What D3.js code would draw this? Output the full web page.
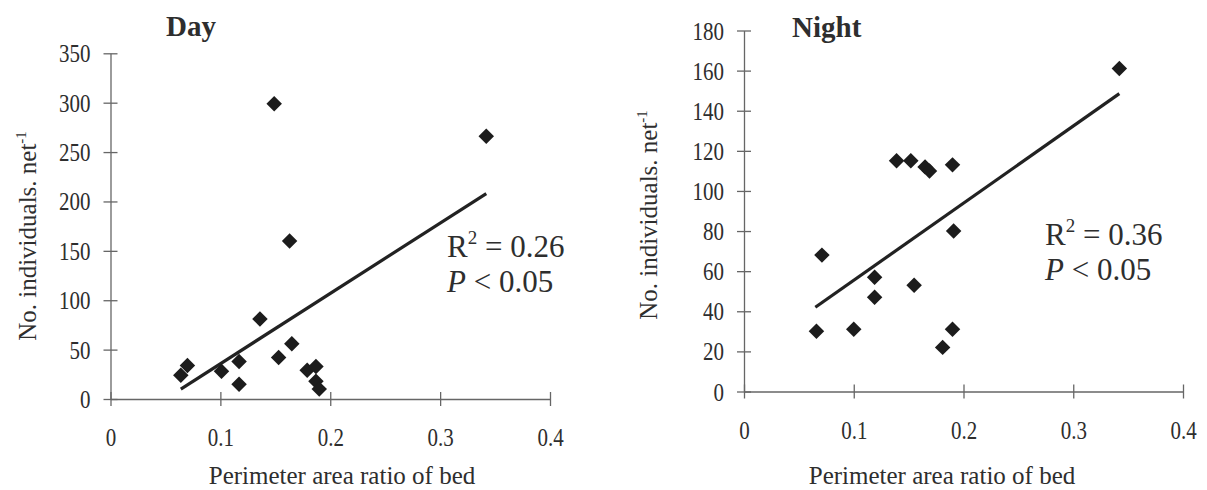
<!DOCTYPE html>
<html>
<head>
<meta charset="utf-8">
<script src="https://cdn.jsdelivr.net/npm/d3@7"></script>
<style>
    body { margin: 0; background: #fff; }
    svg { display: block; }
    svg text { font-family: "Liberation Serif", "Times New Roman", serif; }
</style>
</head>
<body>
<svg id="chart" width="1207" height="490"></svg>
<script>
// Day panel data
const dayX = [0.064, 0.070, 0.101, 0.117, 0.117, 0.136, 0.149, 0.153, 0.163, 0.165, 0.179, 0.187, 0.187, 0.190, 0.342];
const dayY = [24, 34, 28, 38, 15, 81, 299, 42, 160, 56, 29, 33, 18, 10, 266];
const dayTrendX = [0.064, 0.342];
const dayTrendY = [10, 208];

// Night panel data
const nightX = [0.066, 0.071, 0.100, 0.119, 0.119, 0.139, 0.152, 0.155, 0.165, 0.169, 0.181, 0.190, 0.190, 0.191, 0.342];
const nightY = [30, 68, 31, 57, 47, 115, 115, 53, 112, 110, 22, 113, 31, 80, 161];
const nightTrendX = [0.065, 0.342];
const nightTrendY = [42, 148.5];

// Axis ticks
const xTicks = [0, 0.1, 0.2, 0.3, 0.4];
const dayYTicks = [0, 50, 100, 150, 200, 250, 300, 350];
const nightYTicks = [0, 20, 40, 60, 80, 100, 120, 140, 160, 180];

const textColor = "#2e2e2e";
const axisColor = "#666";
const serif = "'Liberation Serif', 'Times New Roman', serif";

function renderScatter(svg, opt) {
    const x = d3.scaleLinear().domain([0, 0.4]).range(opt.xRange);
    const y = d3.scaleLinear().domain(opt.yDomain).range(opt.yRange);

    const g = svg.append("g");

    // Y axis with ticks crossing the line
    const yAxis = g.append("g")
        .attr("transform", `translate(${opt.xRange[0]},0)`)
        .call(d3.axisLeft(y).tickValues(opt.yTicks).tickSizeOuter(0).tickFormat(d3.format("d")));

    // X axis
    const xAxis = g.append("g")
        .attr("transform", `translate(0,${opt.yRange[0]})`)
        .call(d3.axisBottom(x).tickValues(xTicks).tickSizeOuter(0)
            .tickFormat(d => d === 0 ? "0" : d3.format(".1f")(d)));

    [yAxis, xAxis].forEach(ax => {
        ax.attr("font-family", serif).attr("font-size", 25);
        ax.select(".domain").attr("stroke", axisColor).attr("stroke-width", 1.3);
        ax.selectAll(".tick line").attr("stroke", axisColor).attr("stroke-width", 1.3);
        ax.selectAll(".tick text").attr("fill", textColor);
    });

    yAxis.selectAll(".tick line").attr("x1", -7).attr("x2", 7);
    yAxis.selectAll(".tick text")
        .attr("x", 0).attr("dy", "0.34em")
        .attr("transform", "translate(-20,0) scale(0.84,1)");

    xAxis.selectAll(".tick line").attr("y1", -7).attr("y2", 7);
    xAxis.selectAll(".tick text")
        .attr("y", 0).attr("dy", 0)
        .attr("transform", "translate(0,47) scale(0.84,1)");

    // Regression line
    const line = d3.line().x(d => x(d[0])).y(d => y(d[1]));
    g.append("path")
        .datum(d3.zip(opt.trendX, opt.trendY))
        .attr("d", line)
        .attr("fill", "none")
        .attr("stroke", "#222")
        .attr("stroke-width", 3.2);

    // Diamond markers
    const diamond = d3.symbol(d3.symbolSquare, 120);
    g.selectAll(".pt")
        .data(d3.zip(opt.xs, opt.ys))
        .enter().append("path")
        .attr("class", "pt")
        .attr("d", diamond)
        .attr("transform", d => `translate(${x(d[0])},${y(d[1])}) rotate(45)`)
        .attr("fill", "#1c1c1c");

    // Panel title
    g.append("text")
        .attr("x", opt.titlePos[0]).attr("y", opt.titlePos[1])
        .attr("fill", textColor)
        .style("font-size", "29px").style("font-weight", "bold")
        .text(opt.title);

    // Statistics
    const r2 = g.append("text")
        .attr("x", opt.statPos[0]).attr("y", opt.statPos[1])
        .attr("fill", textColor).style("font-size", "31px");
    r2.append("tspan").text("R");
    r2.append("tspan").attr("dy", -13).style("font-size", "19px").text("2");
    r2.append("tspan").attr("dy", 13).text(" = " + opt.r2);

    const p = g.append("text")
        .attr("x", opt.statPos[0]).attr("y", opt.statPos[1] + 35)
        .attr("fill", textColor).style("font-size", "31px");
    p.append("tspan").style("font-style", "italic").text("P");
    p.append("tspan").text(" < 0.05");

    // Axis titles
    const yt = g.append("text")
        .attr("transform", `translate(${opt.yTitlePos[0]},${opt.yTitlePos[1]}) rotate(-90)`)
        .attr("text-anchor", "middle")
        .attr("fill", textColor).style("font-size", "25px");
    yt.append("tspan").text("No. individuals. net");
    yt.append("tspan").attr("dy", -10).style("font-size", "15px").text("-1");

    g.append("text")
        .attr("x", opt.xTitlePos[0]).attr("y", opt.xTitlePos[1])
        .attr("text-anchor", "middle")
        .attr("fill", textColor).style("font-size", "25px")
        .text("Perimeter area ratio of bed");
}

const svg = d3.select("#chart");

renderScatter(svg, {
    xs: dayX, ys: dayY, trendX: dayTrendX, trendY: dayTrendY,
    xRange: [110.5, 550], yDomain: [0, 350], yRange: [399, 53.3], yTicks: dayYTicks,
    title: "Day", titlePos: [166, 36],
    r2: "0.26", statPos: [447, 256.5],
    yTitlePos: [36, 236], xTitlePos: [342, 484]
});

renderScatter(svg, {
    xs: nightX, ys: nightY, trendX: nightTrendX, trendY: nightTrendY,
    xRange: [744, 1183], yDomain: [0, 180], yRange: [391.5, 30.5], yTicks: nightYTicks,
    title: "Night", titlePos: [792, 37],
    r2: "0.36", statPos: [1045, 245],
    yTitlePos: [657, 215], xTitlePos: [942, 484]
});
</script>
</body>
</html>
